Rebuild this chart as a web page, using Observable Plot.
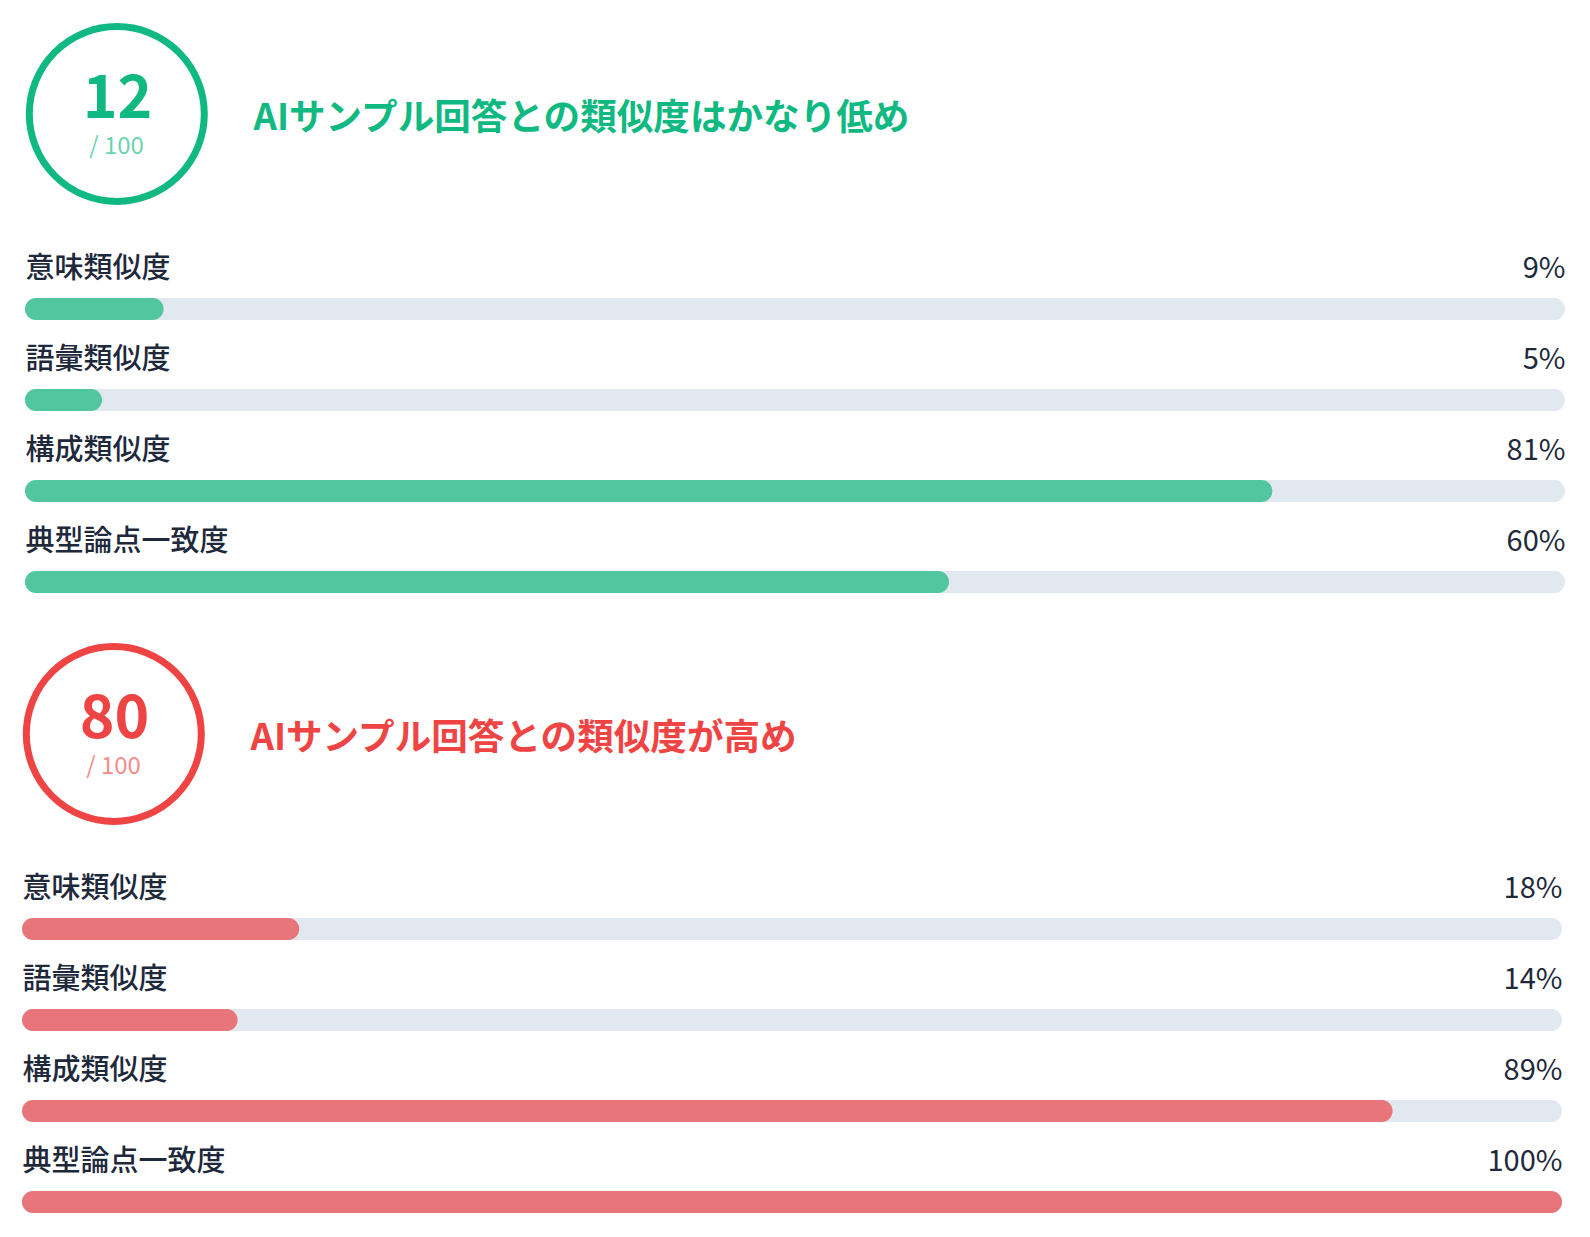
<!DOCTYPE html>
<html>
<head>
<meta charset="utf-8">
<script src="https://cdn.jsdelivr.net/npm/d3@7"></script>
<script src="https://cdn.jsdelivr.net/npm/@observablehq/plot@0.6"></script>
<style>
  html, body { margin: 0; padding: 0; background: #ffffff; overflow: hidden; }
  #chart { width: 1590px; }
  .panel { position: relative; display: block; }
  .panel svg { display: block; }
</style>
</head>
<body>
<div id="chart"></div>
<script>
// ---- data ----
const metrics = ["意味類似度", "語彙類似度", "構成類似度", "典型論点一致度"];
const scores = [12, 80];
const scoreMax = 100;
const titles = ["AIサンプル回答との類似度はかなり低め", "AIサンプル回答との類似度が高め"];
const valuesLow = [9, 5, 81, 60];
const valuesHigh = [18, 14, 89, 100];
const panelValues = [valuesLow, valuesHigh];

// ---- style ----
const accent = ["#10b981", "#ef4444"];
const barFill = ["#52c69f", "#e8757a"];
const trackFill = "#e2e8f0";
const textColor = "#1e293b";
const font = "'Noto Sans CJK JP', 'Noto Sans', sans-serif";
const panelHeights = [620, 617];
const panelShift = [0, -3];

const chart = document.getElementById("chart");

panelValues.forEach((vals, p) => {
  const rows = metrics.map((m, i) => ({metric: m, value: vals[i]}));
  const header = [{score: scores[p], max: scoreMax, title: titles[p]}];

  const plot = Plot.plot({
    width: 1590,
    height: panelHeights[p],
    marginTop: 0, marginBottom: 0, marginLeft: 0, marginRight: 0,
    style: {fontFamily: font, background: "#ffffff", overflow: "visible"},
    x: {domain: [0, 100], range: [25, 1565], axis: null},
    y: {type: "band", domain: metrics, range: [243, 243 + 4 * 91.3], padding: 0, axis: null},
    marks: [
      // score ring
      Plot.dot(header, {frameAnchor: "top-left", dx: 116.3, dy: 113.5, r: 87.5,
        fill: "none", stroke: accent[p], strokeWidth: 7}),
      Plot.text(header, {frameAnchor: "top-left", dx: 117, dy: 99, text: d => String(d.score),
        fill: accent[p], fontSize: 59, fontWeight: 700, textAnchor: "middle", lineAnchor: "middle"}),
      Plot.text(header, {frameAnchor: "top-left", dx: 116, dy: 146, text: d => `/ ${d.max}`,
        fill: accent[p], fillOpacity: 0.65, fontSize: 24, fontWeight: 400, textAnchor: "middle", lineAnchor: "middle"}),
      Plot.text(header, {frameAnchor: "top-left", dx: 253, dy: 117.5, text: "title",
        fill: accent[p], fontSize: 36.6, fontWeight: 700, textAnchor: "start", lineAnchor: "middle"}),
      // tracks
      Plot.barX(rows, {x1: 0, x2: 100, y: "metric", fill: trackFill, insetTop: 54, insetBottom: 15, rx: 11}),
      // values
      Plot.barX(rows, {x1: 0, x2: "value", y: "metric", fill: barFill[p], insetTop: 54, insetBottom: 15, rx: 11}),
      // labels
      Plot.text(rows, {x: 0, y: "metric", text: "metric", textAnchor: "start", lineAnchor: "middle",
        dy: -21.5, fontSize: 29, fontWeight: 500, fill: textColor}),
      Plot.text(rows, {x: 100, y: "metric", text: d => `${d.value}%`, textAnchor: "end", lineAnchor: "middle",
        dy: -21.5, fontSize: 29, fontWeight: 400, fill: textColor})
    ]
  });

  const wrap = document.createElement("div");
  wrap.className = "panel";
  wrap.style.left = panelShift[p] + "px";
  wrap.appendChild(plot);
  chart.appendChild(wrap);
});
</script>
</body>
</html>
